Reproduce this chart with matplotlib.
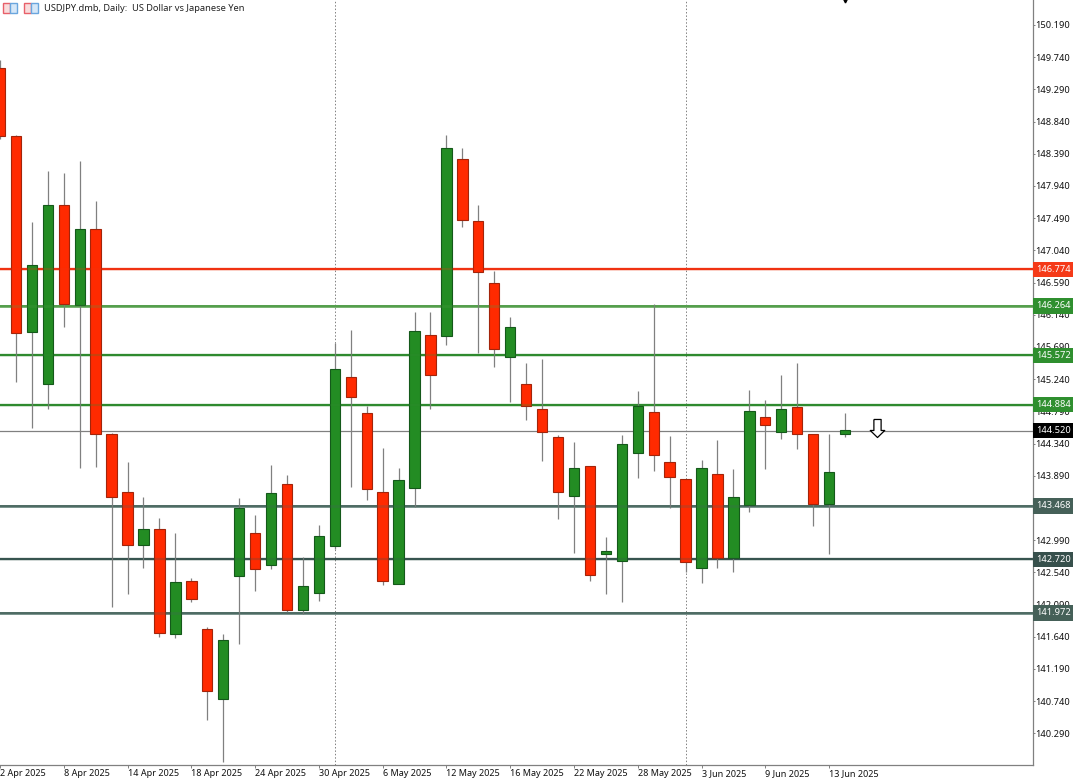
import matplotlib
matplotlib.use('Agg')
import matplotlib.pyplot as plt
from matplotlib.patches import Rectangle

plt.rcParams['font.family'] = ['Noto Sans', 'DejaVu Sans']

TITLE = "USDJPY.dmb, Daily:  US Dollar vs Japanese Yen"

# daily candles, prices
opens = [149.589, 148.638, 145.892, 145.172, 147.667, 146.283, 147.332, 144.473, 143.659, 142.915,
         143.142, 141.682, 142.415, 141.744, 140.766, 142.485, 143.086, 142.647, 143.779, 142.018,
         142.247, 142.908, 145.266, 144.763, 143.659, 142.373, 143.723, 145.861, 145.847, 148.313,
         147.446, 146.580, 145.554, 145.168, 144.819, 144.427, 143.603, 144.022, 142.792, 142.694,
         144.212, 144.777, 144.078, 143.840, 142.605, 143.910, 142.736, 143.481, 144.707, 144.501,
         144.847, 144.478, 143.499, 144.478]
closes = [148.638, 145.878, 146.842, 147.667, 146.290, 147.332, 144.473, 143.597, 142.918, 143.142,
          141.696, 142.401, 142.172, 140.886, 141.594, 143.435, 142.591, 143.645, 142.018, 142.345,
          143.052, 145.378, 144.986, 143.701, 142.415, 143.826, 145.909, 145.294, 148.466, 147.464,
          146.742, 145.657, 145.965, 144.861, 144.497, 143.659, 143.994, 142.499, 142.834, 144.329,
          144.865, 144.176, 143.877, 142.689, 143.994, 142.736, 143.589, 144.791, 144.603, 144.819,
          144.478, 143.499, 143.938, 144.529]
highs = [149.700, 148.652, 147.436, 148.149, 148.128, 148.289, 147.730, 144.487, 144.082, 143.593,
         143.295, 143.090, 142.457, 141.772, 141.674, 143.579, 143.341, 144.036, 143.900, 142.759,
         143.197, 145.745, 145.927, 144.865, 144.278, 143.998, 146.179, 146.183, 148.652, 148.466,
         147.670, 146.752, 146.104, 145.462, 145.517, 144.464, 144.357, 144.022, 143.034, 144.459,
         145.079, 146.290, 144.446, 143.840, 144.110, 144.390, 143.980, 145.088, 144.949, 145.298,
         145.462, 144.478, 144.478, 144.763]
lows = [148.600, 145.200, 144.557, 144.827, 145.962, 143.998, 144.012, 142.060, 142.233, 142.605,
        141.640, 141.627, 142.121, 140.476, 139.893, 141.534, 142.283, 142.591, 141.986, 141.962,
        142.144, 142.866, 143.737, 143.547, 142.359, 142.373, 143.449, 144.827, 145.713, 147.371,
        145.610, 145.414, 144.925, 144.665, 144.092, 143.285, 142.806, 142.423, 142.233, 142.121,
        143.854, 143.961, 143.443, 142.549, 142.387, 142.605, 142.541, 143.388, 143.980, 144.404,
        144.268, 143.192, 142.800, 144.436]

level_prices = [146.774, 146.264, 145.572, 144.884, 143.468, 142.720, 141.972]
level_colors = ['#f03212', '#7db676', '#2f8a2f', '#2f8a2f', '#7f9a93', '#37544f', '#7f9a93']
level_cores = ['#f03212', '#4c9a44', '#2f8a2f', '#2f8a2f', '#45635b', '#37544f', '#45635b']
level_widths = [1.6, 2.0, 1.6, 1.6, 2.0, 1.6, 2.0]
label_colors = ['#f53a18', '#2f8f2f', '#2f8f2f', '#2f8f2f', '#456058', '#37504c', '#456058']
last_price = 144.520

price_ticks = [150.19, 149.74, 149.29, 148.84, 148.39, 147.94, 147.49, 147.04, 146.59, 146.14, 145.69, 145.24,
               144.79, 144.34, 143.89, 143.44, 142.99, 142.54, 142.09, 141.64, 141.19, 140.74, 140.29]
date_pos = [0, 4, 8, 12, 16, 20, 24, 28, 32, 36, 40, 44, 48, 52]
date_labels = ["2 Apr 2025", "8 Apr 2025", "14 Apr 2025", "18 Apr 2025", "24 Apr 2025", "30 Apr 2025",
               "6 May 2025", "12 May 2025", "16 May 2025", "22 May 2025", "28 May 2025", "3 Jun 2025",
               "9 Jun 2025", "13 Jun 2025"]
period_seps = [21, 43]

W, H = 1073, 781
fig = plt.figure(figsize=(W / 100, H / 100), dpi=100)
ax = fig.add_axes([0, (H - 765) / H, 1032.5 / W, 765 / H])
ax.set_xlim(0.13, 64.76)
ax.set_ylim(139.847, 150.539)

RED, GREEN = '#ff2a00', '#238c23'
RED_EDGE, GREEN_EDGE = '#a3240a', '#14591a'
GREY = '#808080'

for x in period_seps:
    ax.axvline(x, color=GREY, lw=0.7, ls=(0, (1.5, 2)), zorder=1)
ax.axhline(last_price, color=GREY, lw=0.9, zorder=1)
for p, c, core, w in zip(level_prices, level_colors, level_cores, level_widths):
    ax.axhline(p, color=c, lw=w, zorder=2)
    ax.axhline(p, color=core, lw=w * 0.55, zorder=2)

# wicks then bodies
xs = list(range(len(opens)))
ax.vlines(xs, lows, highs, color=GREY, lw=0.9, zorder=3)
for x, o, c in zip(xs, opens, closes):
    up = c >= o
    ax.bar(x, abs(c - o), bottom=min(o, c), width=0.65, color=GREEN if up else RED,
           edgecolor=GREEN_EDGE if up else RED_EDGE, lw=0.8, zorder=4)

# levels show faintly through the candles
for p, c, w in zip(level_prices, level_cores, level_widths):
    ax.axhline(p, color=c, lw=w, alpha=0.25, zorder=5)

# sell arrow next to the last candle
arrow = [(-0.4, 1), (0.4, 1), (0.4, -0.22), (0.8, -0.22), (0, -1), (-0.8, -0.22), (-0.4, -0.22), (-0.4, 1)]
ax.plot([55], [144.557], marker=arrow, ms=13, mfc='white', mec='black', mew=0.9, ls='none', zorder=6)
# small marker cut by the top edge
ax.plot([53], [150.535], marker='v', ms=3.5, color='black', ls='none', zorder=6)

for s in ['top', 'left']:
    ax.spines[s].set_visible(False)
for s in ['right', 'bottom']:
    ax.spines[s].set_color(GREY)
    ax.spines[s].set_linewidth(0.9)

ax.yaxis.tick_right()
ax.set_yticks(price_ticks)
# a tick value sitting right under a price tag is fully hidden in the terminal
ax.set_yticklabels(['' if min(abs(p - q) for q in level_prices) < 0.05 else f"{p:.3f}" for p in price_ticks])
ax.set_xticks(date_pos)
ax.set_xticklabels(date_labels, ha='left')
ax.tick_params(axis='y', length=1.5, width=0.7, color=GREY, pad=0.5, labelsize=6.7, labelcolor='#111111')
ax.tick_params(axis='x', length=2.5, width=0.7, color=GREY, pad=0.5, labelsize=6.5, labelcolor='#111111')

# price tags on the right, over the tick labels
trans = ax.get_yaxis_transform()
for p, c in zip(level_prices + [last_price], label_colors + ['black']):
    ax.text(1.0037, p, f"{p:.3f}", transform=trans, color='white', fontsize=6.7, va='center', ha='left',
            clip_on=False, zorder=10,
            bbox=dict(boxstyle='square,pad=0.35', fc=c, ec='none'))

# title icons and caption
for x0 in [3, 24]:
    fig.add_artist(Rectangle((x0 / W, 1 - 13 / H), 7 / W, 10 / H, transform=fig.transFigure, fc='#f9dcdc', ec='#e8606a', lw=1.0))
    fig.add_artist(Rectangle(((x0 + 7) / W, 1 - 13 / H), 7 / W, 10 / H, transform=fig.transFigure, fc='#d5e7f8', ec='#6aa6de', lw=1.0))
fig.text(44 / W, 1 - 8.5 / H, TITLE, fontsize=6.7, color='#222222', va='center', ha='left')

fig.savefig('out.png', dpi=100, facecolor='white')
